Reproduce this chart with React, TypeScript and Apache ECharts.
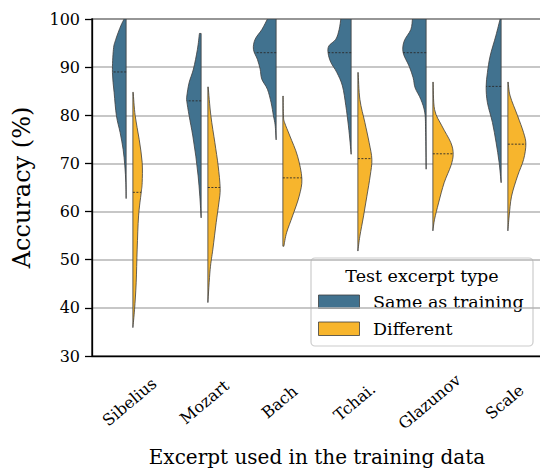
import React, { useEffect, useRef } from "react";
import * as echarts from "echarts";

const categories = ["Sibelius", "Mozart", "Bach", "Tchai.", "Glazunov", "Scale"];
const yTicks = [30, 40, 50, 60, 70, 80, 90, 100];
const seriesNames = ["Same as training", "Different"];

// medians per category
const sameMedians = [89, 83, 93, 93, 93, 86];
const diffMedians = [64, 65, 67, 71, 72, 74];

// density profiles: [accuracy, relative density width]
const sameSibelius = [[100, 2], [98.6, 5.3], [95.8, 10.3], [93.7, 12.7], [88.9, 13.7], [84.7, 12], [79.9, 9.7], [76.4, 6], [72.9, 3], [69.5, 1.3], [66, 0.3], [62.7, 0]];
const sameMozart = [[97, 1.7], [93.7, 3.7], [89.6, 7.7], [86.8, 12], [84, 14.3], [82.9, 14.3], [79.9, 12], [75.7, 8.3], [71.5, 5.3], [67.4, 3], [63.2, 1.3], [58.7, 0]];
const sameBach = [[100, 8.7], [97.8, 14.3], [95.8, 21], [93.7, 22.7], [91.6, 18.7], [89.6, 16], [87.5, 14.3], [85.4, 8.7], [82.6, 5], [79.9, 2.7], [78, 1], [74.9, 0]];
const sameTchai = [[100, 10.3], [97.8, 12], [95.8, 15.3], [94.4, 22.3], [92.9, 23], [91, 20.3], [88.9, 14.3], [86.1, 8.7], [82, 5.3], [77.8, 2.7], [74.3, 1], [71.9, 0]];
const sameGlazunov = [[100, 13.7], [97.8, 15.3], [95.4, 22], [93, 23], [90.2, 17], [87.8, 13], [85.7, 11], [83.3, 5.3], [80.5, 1.3], [76.4, 0.5], [68.8, 0]];
const sameScale = [[100, 1], [96.5, 5.3], [92.3, 11], [88.9, 13.7], [85.9, 15], [82.6, 13.7], [78.5, 8.7], [74.3, 5], [70.2, 2], [66, 0]];

const diffSibelius = [[84.8, 0.3], [79.9, 2.3], [75, 6.3], [70.2, 9.3], [66, 9.3], [63.9, 8.3], [59.1, 5.7], [52.2, 4.3], [45.2, 3.3], [39.7, 1.7], [35.9, 0]];
const diffMozart = [[85.9, 0.3], [79.9, 3], [74.3, 7], [69.5, 10.3], [64.8, 12.3], [61.8, 11], [57.7, 8.3], [52.2, 5], [48, 2.3], [41.1, 0]];
const diffBach = [[84, 0.3], [79.9, 0.6], [78.5, 1.7], [75.7, 7], [71.5, 14.7], [66.8, 19], [63.2, 16.3], [59.1, 9.7], [55.6, 3.7], [52.8, 1]];
const diffTchai = [[88.9, 0.3], [83.3, 2], [78.5, 7], [74.3, 11.3], [70.8, 14], [67.4, 12.3], [63.2, 9], [59.1, 5.7], [54.9, 2], [51.8, 0]];
const diffGlazunov = [[86.9, 0.3], [81.2, 1.7], [77.8, 9], [74.3, 18], [71.9, 20.3], [69.5, 18], [66, 11.3], [61.8, 5.7], [58.4, 1.7], [56, 0]];
const diffScale = [[86.9, 0.3], [84, 2.3], [79.9, 9.7], [76.4, 15.7], [74, 18], [70.8, 15.7], [67.4, 9.7], [63.2, 3.7], [59.1, 1.3], [56, 0]];

const sameProfiles = [sameSibelius, sameMozart, sameBach, sameTchai, sameGlazunov, sameScale];
const diffProfiles = [diffSibelius, diffMozart, diffBach, diffTchai, diffGlazunov, diffScale];

const BLUE = "#41728f";
const ORANGE = "#f7b52d";
const EDGE = "#3d3d3d";
const FONT = "'DejaVu Serif', serif";
const DENSITY_UNIT = 75; // density widths are relative to one category band
const HALF_GAP = 0.045;

function widthAt(profile: number[][], v: number) {
  for (let i = 0; i < profile.length - 1; i++) {
    const a = profile[i], b = profile[i + 1];
    if (v <= a[0] && v >= b[0]) {
      const t = (a[0] - v) / (a[0] - b[0] || 1);
      return a[1] + (b[1] - a[1]) * t;
    }
  }
  return 0;
}

function makeRender(profiles: number[][][], medians: number[], side: number, color: string) {
  return (params: any, api: any) => {
    const cat = api.value(0);
    const profile = profiles[cat];
    const band = api.size([1, 0])[0];
    const cx = api.coord([cat, 50])[0];
    const innerX = cx + side * HALF_GAP * band;
    const pts = profile.map(([v, w]) => {
      const y = api.coord([cat, v])[1];
      return [innerX + side * (w / DENSITY_UNIT) * band, y];
    });
    const yTop = pts[0][1];
    const yBot = pts[pts.length - 1][1];
    let d = `M${innerX},${yTop} L${pts[0][0]},${pts[0][1]}`;
    for (let i = 0; i < pts.length - 1; i++) {
      const p0 = pts[i - 1] || pts[i];
      const p1 = pts[i];
      const p2 = pts[i + 1];
      const p3 = pts[i + 2] || p2;
      const c1x = p1[0] + (p2[0] - p0[0]) / 6;
      const c1y = p1[1] + (p2[1] - p0[1]) / 6;
      const c2x = p2[0] - (p3[0] - p1[0]) / 6;
      const c2y = p2[1] - (p3[1] - p1[1]) / 6;
      d += ` C${c1x},${c1y} ${c2x},${c2y} ${p2[0]},${p2[1]}`;
    }
    d += ` L${innerX},${yBot} Z`;
    const med = medians[cat];
    const my = api.coord([cat, med])[1];
    const mw = widthAt(profile, med);
    return {
      type: "group",
      children: [
        {
          type: "path",
          shape: { pathData: d },
          style: { fill: color, stroke: EDGE, lineWidth: 0.8 },
        },
        {
          type: "line",
          shape: { x1: innerX, y1: my, x2: innerX + side * (mw / DENSITY_UNIT) * band, y2: my },
          style: { stroke: "#2a2a2a", lineWidth: 0.9, lineDash: [2, 1.5] },
        },
      ],
    };
  };
}

export default function App() {
  const ref = useRef<HTMLDivElement>(null);
  useEffect(() => {
    if (!ref.current) return;
    const chart = echarts.init(ref.current, null, { renderer: "svg" });
    const idxData = categories.map((_, i) => [i]);
    chart.setOption({
      animation: false,
      grid: {
        left: 92,
        top: 19,
        right: -2,
        bottom: 117,
        outerBoundsMode: "none",
        containLabel: false,
        show: true,
        borderColor: "#000",
        borderWidth: 1.3,
        backgroundColor: "transparent",
      },
      xAxis: {
        type: "category",
        data: categories,
        name: "Excerpt used in the training data",
        nameLocation: "middle",
        nameGap: 91,
        nameTextStyle: { fontFamily: FONT, fontSize: 20, color: "#000" },
        axisLine: { lineStyle: { color: "#000", width: 1.3 } },
        axisTick: { alignWithLabel: true, length: 7, lineStyle: { color: "#000", width: 1.3 } },
        axisLabel: {
          rotate: 40,
          interval: 0,
          align: "center",
          verticalAlign: "middle",
          margin: 46,
          fontFamily: FONT,
          fontSize: 16,
          color: "#000",
        },
        splitLine: { show: false },
      },
      yAxis: {
        type: "value",
        min: 30,
        max: 100,
        interval: 10,
        name: "Accuracy (%)",
        nameLocation: "middle",
        nameGap: 58,
        nameTextStyle: { fontFamily: FONT, fontSize: 24, color: "#000" },
        axisLine: { show: true, lineStyle: { color: "#000", width: 1.3 } },
        axisTick: { show: true, length: 7, lineStyle: { color: "#000", width: 1.3 } },
        axisLabel: {
          margin: 12,
          fontFamily: FONT,
          fontSize: 16,
          color: "#000",
          formatter: (v: number) => (yTicks.includes(v) ? String(v) : ""),
        },
        splitLine: { show: true, lineStyle: { color: "#b4b4b4", width: 1.5 } },
      },
      series: [
        {
          type: "custom",
          name: seriesNames[0],
          renderItem: makeRender(sameProfiles, sameMedians, -1, BLUE),
          data: idxData,
          clip: true,
          z: 3,
        },
        {
          type: "custom",
          name: seriesNames[1],
          renderItem: makeRender(diffProfiles, diffMedians, 1, ORANGE),
          data: idxData,
          clip: true,
          z: 3,
        },
      ],
      graphic: [
        {
          type: "group",
          z: 100,
          children: [
            {
              type: "rect",
              shape: { x: 311, y: 258, width: 222, height: 88, r: 4 },
              style: { fill: "rgba(255,255,255,0.85)", stroke: "#cccccc", lineWidth: 1.2 },
            },
            {
              type: "text",
              x: 422,
              y: 276,
              style: {
                text: "Test excerpt type",
                fontFamily: FONT,
                fontSize: 17.5,
                fill: "#000",
                align: "center",
                verticalAlign: "middle",
              },
            },
            {
              type: "rect",
              shape: { x: 318.5, y: 295, width: 41, height: 13.5 },
              style: { fill: BLUE, stroke: EDGE, lineWidth: 0.8 },
            },
            {
              type: "text",
              x: 373,
              y: 302,
              style: {
                text: seriesNames[0],
                fontFamily: FONT,
                fontSize: 17.5,
                fill: "#000",
                align: "left",
                verticalAlign: "middle",
              },
            },
            {
              type: "rect",
              shape: { x: 318.5, y: 322, width: 41, height: 13.5 },
              style: { fill: ORANGE, stroke: EDGE, lineWidth: 0.8 },
            },
            {
              type: "text",
              x: 373,
              y: 329,
              style: {
                text: seriesNames[1],
                fontFamily: FONT,
                fontSize: 17.5,
                fill: "#000",
                align: "left",
                verticalAlign: "middle",
              },
            },
          ],
        },
      ],
    });
    return () => chart.dispose();
  }, []);
  return <div ref={ref} style={{ width: 540, height: 473, position: "absolute", left: 0, top: 0 }} />;
}
